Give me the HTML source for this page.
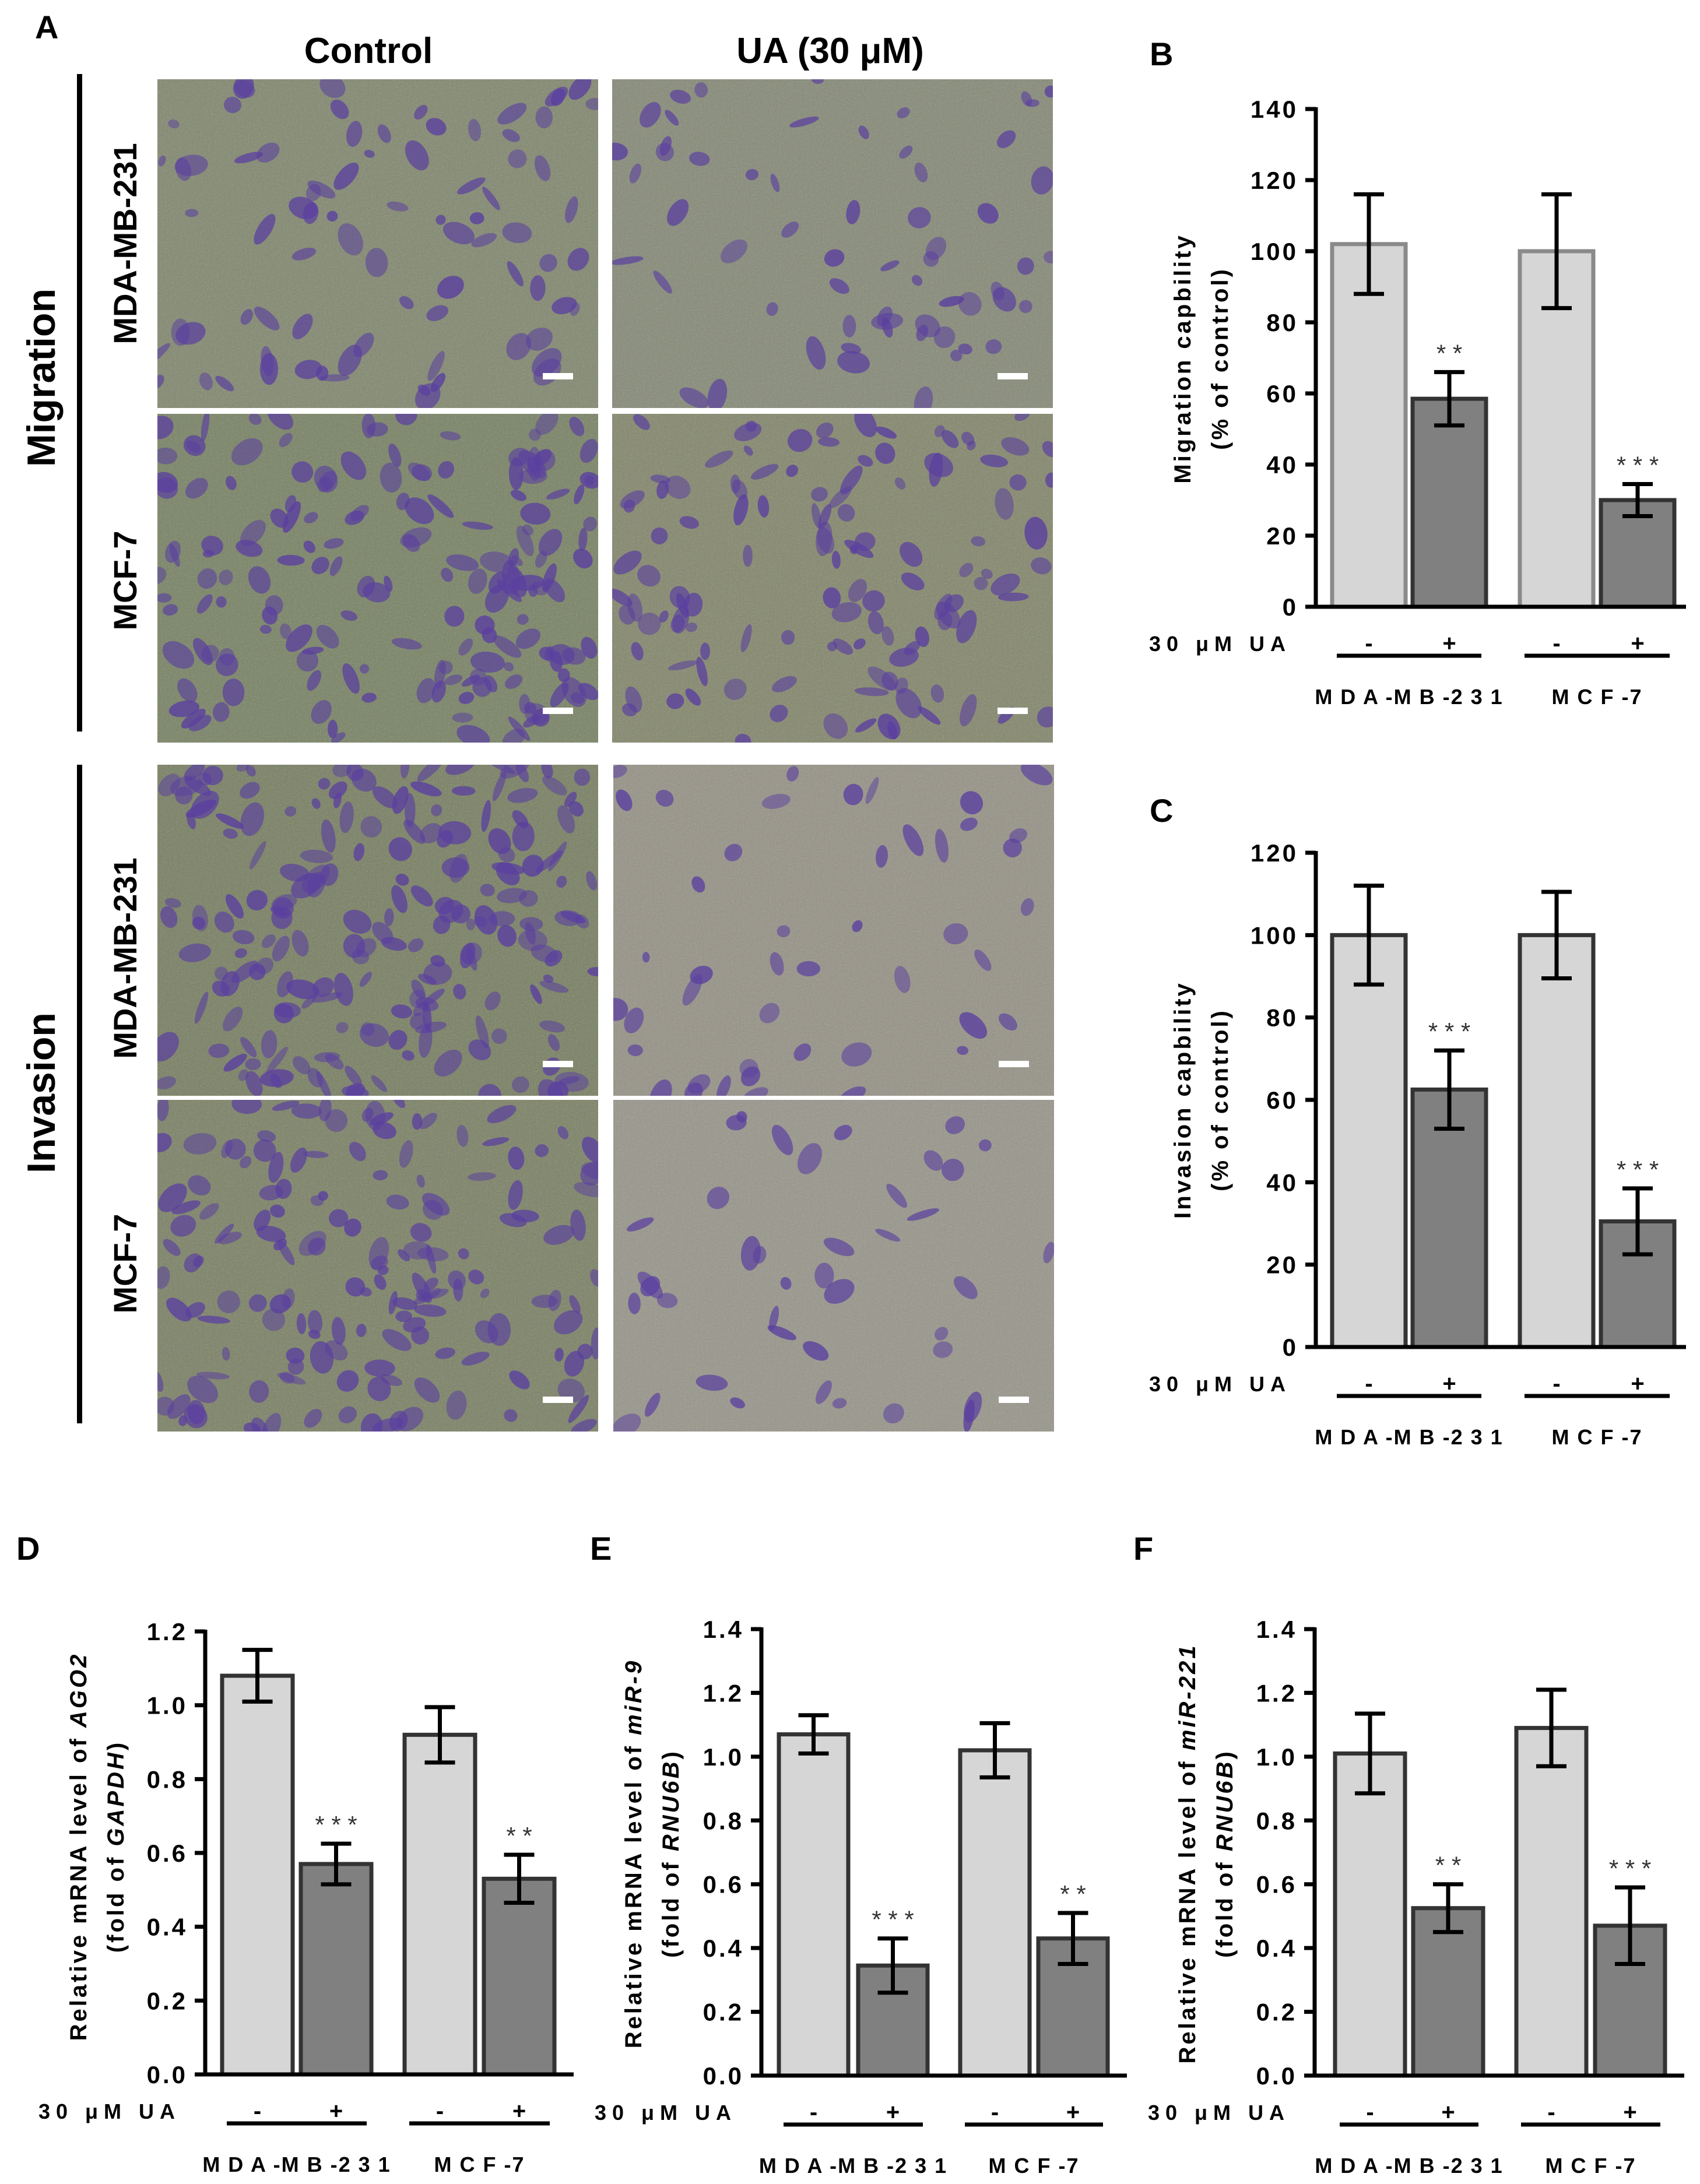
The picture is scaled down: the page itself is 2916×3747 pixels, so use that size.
<!DOCTYPE html>
<html><head><meta charset="utf-8">
<style>
html,body{margin:0;padding:0;background:#fff;}
svg{display:block;font-family:"Liberation Sans",Arial,sans-serif;}
</style></head>
<body>
<svg id="fig" width="2916" height="3747" viewBox="0 0 2916 3747" xmlns="http://www.w3.org/2000/svg">
<defs>
<filter id="grain" x="0" y="0" width="100%" height="100%">
<feTurbulence type="fractalNoise" baseFrequency="0.35" numOctaves="2" seed="3" result="n"/>
<feColorMatrix type="saturate" values="0.6"/>
</filter>
</defs>
<g id="panelA"></g>
<g id="charts"></g>
</svg>
<script>
// ---------- Chart data ----------
const groups = ["MDA-MB-231", "MCF-7"];
const treatments = ["-", "+", "-", "+"];
const bValues = [102, 58.5, 100, 30];
const bErrors = [14, 7.5, 16, 4.5];
const bStars = ["", "**", "", "***"];
const bTicks = [0, 20, 40, 60, 80, 100, 120, 140];
const cValues = [100, 62.5, 100, 30.5];
const cErrors = [12, 9.5, 10.5, 8];
const cStars = ["", "***", "", "***"];
const cTicks = [0, 20, 40, 60, 80, 100, 120];
const dValues = [1.08, 0.57, 0.92, 0.53];
const dErrors = [0.07, 0.055, 0.075, 0.065];
const dStars = ["", "***", "", "**"];
const dTicks = [0, 0.2, 0.4, 0.6, 0.8, 1.0, 1.2];
const eValues = [1.07, 0.345, 1.02, 0.43];
const eErrors = [0.06, 0.085, 0.085, 0.08];
const eStars = ["", "***", "", "**"];
const eTicks = [0, 0.2, 0.4, 0.6, 0.8, 1.0, 1.2, 1.4];
const fValues = [1.01, 0.525, 1.09, 0.47];
const fErrors = [0.125, 0.075, 0.12, 0.12];
const fStars = ["", "**", "", "***"];
const fTicks = [0, 0.2, 0.4, 0.6, 0.8, 1.0, 1.2, 1.4];

const NS = "http://www.w3.org/2000/svg";
function mk(tag, attrs, parent) {
  const e = document.createElementNS(NS, tag);
  for (const k in attrs) e.setAttribute(k, attrs[k]);
  parent.appendChild(e);
  return e;
}
const A = document.getElementById("panelA");
const C = document.getElementById("charts");

// ---------- Panel A (micrographs) ----------
let seed = 7;
function rnd() { seed = (seed * 16807) % 2147483647; return seed / 2147483647; }
const imgs = [
  {x:270,y:136,w:756,h:564,bg:"#848a72",n:80,name:"migration-mda-control"},
  {x:1050,y:136,w:756,h:564,bg:"#888c7a",n:60,name:"migration-mda-ua"},
  {x:270,y:710,w:756,h:564,bg:"#7b8568",n:170,name:"migration-mcf7-control"},
  {x:1050,y:710,w:756,h:564,bg:"#86896f",n:120,name:"migration-mcf7-ua"},
  {x:270,y:1312,w:756,h:568,bg:"#7b8266",n:200,name:"invasion-mda-control"},
  {x:1052,y:1312,w:756,h:568,bg:"#979488",n:45,name:"invasion-mda-ua"},
  {x:270,y:1887,w:756,h:569,bg:"#7e8469",n:160,name:"invasion-mcf7-control"},
  {x:1052,y:1887,w:756,h:569,bg:"#99978c",n:40,name:"invasion-mcf7-ua"}
];
imgs.forEach(p => {
  const g = mk("g", {}, A);
  
  
  mk("rect", {x:p.x, y:p.y, width:p.w, height:p.h, fill:p.bg}, g);
  mk("rect", {x:p.x, y:p.y, width:p.w, height:p.h, filter:"url(#grain)", opacity:0.22}, g);
  const cp = "clip-" + p.name;
  const cl = mk("clipPath", {id:cp}, g);
  mk("rect", {x:p.x, y:p.y, width:p.w, height:p.h}, cl);
  const inner = mk("g", {"clip-path":"url(#" + cp + ")"}, g);
  for (let i = 0; i < p.n; i++) {
    const cx = p.x + rnd() * p.w, cy = p.y + rnd() * p.h;
    mk("ellipse", {cx:cx, cy:cy, rx:8 + rnd()*22, ry:6 + rnd()*14,
      transform:"rotate(" + (rnd()*180) + " " + cx + " " + cy + ")",
      fill:"#5a3fa0", "fill-opacity":0.5 + rnd()*0.3}, inner);
  }
  const sb = mk("rect", {x:p.x + p.w - 95, y:p.y + p.h - 60, width:52, height:11, fill:"#fff"}, g);
  
  
});
function txt(s, attrs, parent, name) {
  const t = mk("text", attrs, parent);
  t.textContent = s;
  
  
  return t;
}
txt("A", {x:60, y:66, "font-size":56, "font-weight":"bold"}, A, "panel-label-a");
txt("Control", {x:632, y:108, "font-size":62, "font-weight":"bold", "text-anchor":"middle"}, A, "column-title-control");
txt("UA (30 μM)", {x:1424, y:108, "font-size":62, "font-weight":"bold", "text-anchor":"middle"}, A, "column-title-ua");
const l1 = mk("rect", {x:132, y:127, width:9, height:1128, fill:"#000"}, A);


const l2 = mk("rect", {x:132, y:1312, width:9, height:1130, fill:"#000"}, A);


txt("Migration", {x:0, y:0, "font-size":68, "font-weight":"bold", "text-anchor":"middle", transform:"translate(94 648) rotate(-90)"}, A, "row-title-migration");
txt("Invasion", {x:0, y:0, "font-size":68, "font-weight":"bold", "text-anchor":"middle", transform:"translate(94 1875) rotate(-90)"}, A, "row-title-invasion");
[["MDA-MB-231",418],["MCF-7",996],["MDA-MB-231",1644],["MCF-7",2168]].forEach((r,i) => {
  txt(r[0], {x:0, y:0, "font-size":56, "font-weight":"bold", "text-anchor":"middle", transform:"translate(234 " + r[1] + ") rotate(-90)"}, A, "row-label-" + i);
});

// ---------- Bar charts ----------
function chart(cfg) {
  const g = mk("g", {}, C);
  
  
  const ymax = cfg.ticks[cfg.ticks.length - 1];
  const yS = v => cfg.y0 - (v / ymax) * (cfg.y0 - cfg.yTop);
  txt(cfg.letter, {x:cfg.lx, y:cfg.ly, "font-size":56, "font-weight":"bold"}, g, "panel-label-" + cfg.letter.toLowerCase());
  cfg.values.forEach((v, i) => {
    const x = cfg.bx[i], w = cfg.bw;
    const light = i % 2 === 0;
    const r = mk("rect", {x:x, y:yS(v), width:w, height:cfg.y0 - yS(v),
      fill: light ? "#d6d6d6" : "#808080",
      stroke: light ? cfg.lightStroke : "#333", "stroke-width":7}, g);
    
    
    const cx = x + w / 2, hi = yS(v + cfg.errors[i]), lo = yS(v - cfg.errors[i]);
    const eb = mk("path", {d:"M" + cx + " " + hi + "V" + lo + "M" + (cx-26) + " " + hi + "H" + (cx+26) + "M" + (cx-26) + " " + lo + "H" + (cx+26),
      stroke:"#000", "stroke-width":7, fill:"none"}, g);
    
    
    if (cfg.stars[i]) {
      txt(cfg.stars[i].split("").join(" "), {x:cx, y:hi - 18, "font-size":42, fill:"#333", "text-anchor":"middle"}, g, "significance-stars");
    }
    txt(treatments[i], {x:cx, y:cfg.y0 + 76, "font-size":40, "font-weight":"bold", "text-anchor":"middle"}, g, "treatment-sign");
  });
  const ax = mk("path", {d:"M" + cfg.ax + " " + (cfg.yTop - 3) + "V" + cfg.y0 + "H" + cfg.axEnd, stroke:"#000", "stroke-width":7, fill:"none"}, g);
  
  
  cfg.ticks.forEach(t => {
    const y = yS(t);
    const tk = mk("line", {x1:cfg.ax - 18, x2:cfg.ax, y1:y, y2:y, stroke:"#000", "stroke-width":7}, g);
    
    
    txt(cfg.dec ? t.toFixed(1) : String(t), {x:cfg.ax - 30, y:y + 15, "font-size":42, "font-weight":"bold", "text-anchor":"end", "letter-spacing":4}, g, "y-tick-label");
  });
  txt("30 μM UA", {x:cfg.ax - 42, y:cfg.y0 + 76, "font-size":36, "font-weight":"bold", "text-anchor":"end", "letter-spacing":10}, g, "treatment-label");
  groups.forEach((gn, k) => {
    const x1 = cfg.bx[2*k] + 8, x2 = cfg.bx[2*k+1] + cfg.bw - 8;
    const u = mk("line", {x1:x1, x2:x2, y1:cfg.y0 + 84, y2:cfg.y0 + 84, stroke:"#000", "stroke-width":7}, g);
    
    
    txt(gn.split("").join(" ").replace(/ - /g, " -"), {x:(x1 + x2) / 2, y:cfg.y0 + 167, "font-size":36, "font-weight":"bold", "text-anchor":"middle", "letter-spacing":2}, g, "group-label");
  });
  const yt = mk("text", {transform:"translate(" + cfg.tx + " " + cfg.ty + ") rotate(-90)", "font-size":40, "font-weight":"bold", "text-anchor":"middle", "letter-spacing":4}, g);
  
  
  cfg.title1.forEach(p => { const s = mk("tspan", p[1] ? {"font-style":"italic"} : {}, yt); s.textContent = p[0]; });
  const yt2 = mk("text", {transform:"translate(" + (cfg.tx + 64) + " " + cfg.ty + ") rotate(-90)", "font-size":40, "font-weight":"bold", "text-anchor":"middle", "letter-spacing":4}, g);
  
  
  cfg.title2.forEach(p => { const s = mk("tspan", p[1] ? {"font-style":"italic"} : {}, yt2); s.textContent = p[0]; });
}

chart({name:"chart-b-migration", letter:"B", lx:1972, ly:112, values:bValues, errors:bErrors, stars:bStars, ticks:bTicks,
  y0:1041, yTop:187, ax:2257, axEnd:2892, bx:[2285,2423,2607,2746], bw:126, lightStroke:"#8a8a8a", dec:false,
  tx:2042, ty:615, title1:[["Migration capbility",0]], title2:[["(% of control)",0]]});
chart({name:"chart-c-invasion", letter:"C", lx:1972, ly:1410, values:cValues, errors:cErrors, stars:cStars, ticks:cTicks,
  y0:2311, yTop:1463, ax:2257, axEnd:2892, bx:[2285,2423,2607,2746], bw:126, lightStroke:"#333", dec:false,
  tx:2042, ty:1887, title1:[["Invasion capbility",0]], title2:[["(% of control)",0]]});
chart({name:"chart-d-ago2", letter:"D", lx:28, ly:2676, values:dValues, errors:dErrors, stars:dStars, ticks:dTicks,
  y0:3559, yTop:2799, ax:352, axEnd:984, bx:[381,516,694,830], bw:121, lightStroke:"#333", dec:true,
  tx:148, ty:3168, title1:[["Relative mRNA level of ",0],["AGO2",1]], title2:[["(fold of ",0],["GAPDH",1],[")",0]]});
chart({name:"chart-e-mir9", letter:"E", lx:1012, ly:2676, values:eValues, errors:eErrors, stars:eStars, ticks:eTicks,
  y0:3561, yTop:2795, ax:1306, axEnd:1933, bx:[1336,1472,1647,1781], bw:119, lightStroke:"#333", dec:true,
  tx:1100, ty:3180, title1:[["Relative mRNA level of ",0],["miR-9",1]], title2:[["(fold of ",0],["RNU6B",1],[")",0]]});
chart({name:"chart-f-mir221", letter:"F", lx:1944, ly:2676, values:fValues, errors:fErrors, stars:fStars, ticks:fTicks,
  y0:3561, yTop:2795, ax:2255, axEnd:2889, bx:[2290,2424,2601,2736], bw:120, lightStroke:"#333", dec:true,
  tx:2050, ty:3180, title1:[["Relative mRNA level of ",0],["miR-221",1]], title2:[["(fold of ",0],["RNU6B",1],[")",0]]});
</script>
</body></html>
